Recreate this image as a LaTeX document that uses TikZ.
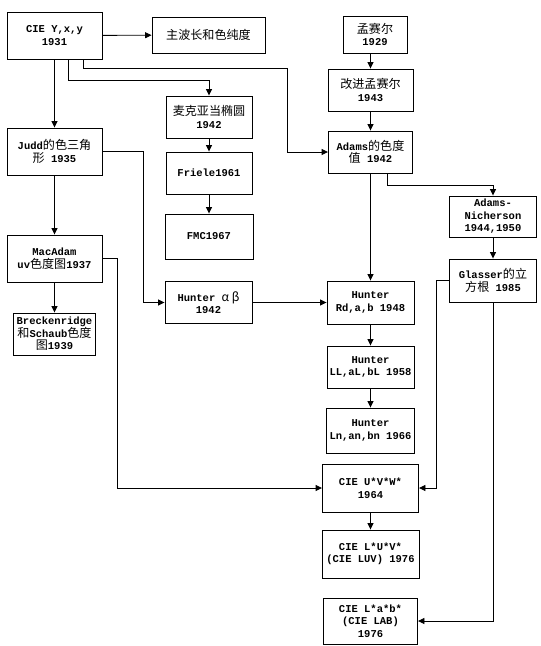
\documentclass[tikz,border=0pt]{standalone}
\usepackage{fontspec}
\setmainfont{Liberation Mono}
\newfontfamily\cjk{Noto Sans CJK SC}[Scale=1.15]
\usetikzlibrary{arrows.meta,positioning}
\tikzset{>/.tip={Triangle[length=6.5pt,width=6pt]}}
\tikzset{box/.style={draw,align=center,inner sep=1pt,font=\fontsize{10.5}{12.5}\selectfont\bfseries}}
\newcommand\zh[1]{{\cjk\mdseries #1}}

\begin{document}
\begin{tikzpicture}[x=1pt,y=-1pt,line width=0.9pt,on grid]
        \useasboundingbox (0,0) rectangle (541,646);
        \node(cie)[box,minimum width=95,minimum height=47] at (54.5,35.5){CIE Y,x,y\\1931};
        \node(dom)[box,minimum width=113,minimum height=36] at (208.5,35){\zh{主波长和色纯度}};
        \node(mun)[box,minimum width=64,minimum height=37] at (375,34.5){\zh{孟赛尔}\\1929};
        \node(mmun)[box,minimum width=85,minimum height=42] at (370.5,90){\zh{改进孟赛尔}\\1943};
        \node(adams)[box,minimum width=84,minimum height=42,below=62pt of mmun]{Adams\zh{的色度}\\\zh{值} 1942};
        \node(mac)[box,minimum width=86,minimum height=42] at (209,117){\zh{麦克亚当椭圆}\\1942};
        \node(fri)[box,minimum width=86,minimum height=42,below=56pt of mac]{Friele1961};
        \node(fmc)[box,minimum width=88,minimum height=45,below=63.5pt of fri]{FMC1967};
        \node(judd)[box,minimum width=95,minimum height=47] at (54.5,151.5){Judd\zh{的色三角}\\\zh{形} 1935};
        \node(macuv)[box,minimum width=95,minimum height=47,below=107pt of judd]{MacAdam\\uv\zh{色度图}1937};
        \node(breck)[box,minimum width=82,minimum height=42,below=75.5pt of macuv]{Breckenridge\\\zh{和}Schaub\zh{色度}\\\zh{图}1939};
        \node(an)[box,minimum width=87,minimum height=41] at (493,216.5){Adams-\\Nicherson\\1944,1950};
        \node(gla)[box,minimum width=87,minimum height=43] at (493,280.5){Glasser\zh{的立}\\\zh{方根} 1985};
        \node(hab)[box,minimum width=87,minimum height=42] at (208.5,302.5){Hunter \zh{α β}\\1942};
        \node(hrd)[box,minimum width=87,minimum height=43] at (370.5,302.5){Hunter\\Rd,a,b 1948};
        \node(hll)[box,minimum width=87,minimum height=42,below=64.5pt of hrd]{Hunter\\LL,aL,bL 1958};
        \node(hln)[box,minimum width=88,minimum height=45,below=63.5pt of hll]{Hunter\\Ln,an,bn 1966};
        \node(uvw)[box,minimum width=96,minimum height=48,below=57.5pt of hln]{CIE U*V*W*\\1964};
        \node(luv)[box,minimum width=97,minimum height=48,below=66pt of uvw]{CIE L*U*V*\\(CIE LUV) 1976};
        \node(lab)[box,minimum width=94,minimum height=46,below=67pt of luv]{CIE L*a*b*\\(CIE LAB)\\1976};
        % straight links
        \draw[->]
        (cie) edge (dom)
        (cie) edge (judd)
        (judd) edge (macuv)
        (macuv) edge (breck)
        (mac) edge (fri)
        (fri) edge (fmc)
        (mmun) edge (adams)
        (adams) edge (hrd)
        (hrd) edge (hll)
        (hll) edge (hln)
        (uvw) edge (luv)
        (hab) edge (hrd)
        (an) edge (gla);
        % bent links
        \draw[->] (mun.south -| mmun.north) -- (mmun.north);
        \draw[->] ([xshift=13.5pt]cie.south) -- ++(0,21) -| (mac);
        \draw[->] ([xshift=28.5pt]cie.south) |- (287,68) |- (adams);
        \draw[->] (judd.east) -- ++(41,0) |- (hab);
        \draw[->] ([xshift=17pt]adams.south) -- ++(0,12) -| (an);
        \draw[->] (macuv.east) -- ++(15,0) |- (uvw);
        \draw[->] (gla.west) -- ++(-13,0) |- (uvw);
        \draw[->] (gla) |- (lab);
      \end{tikzpicture}
\end{document}
